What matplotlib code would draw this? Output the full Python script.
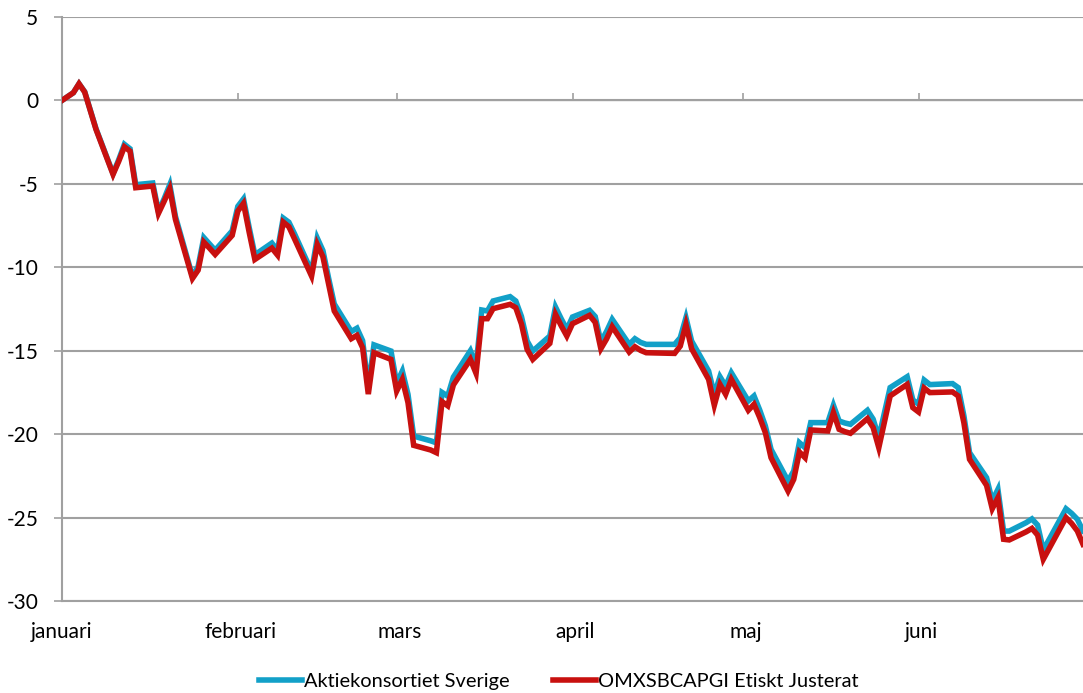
import matplotlib
matplotlib.use("Agg")
import matplotlib.pyplot as plt
import matplotlib.dates as mdates
import matplotlib.transforms as mtransforms
import numpy as np

plt.rcParams['font.family'] = ['Lato', 'DejaVu Sans']

# Trading days, first half of 2022 (base at 1 January = 0)
dates = [
    "2022-01-01", "2022-01-03", "2022-01-04", "2022-01-05", "2022-01-07",
    "2022-01-10", "2022-01-11", "2022-01-12", "2022-01-13", "2022-01-14",
    "2022-01-17", "2022-01-18", "2022-01-19", "2022-01-20", "2022-01-21",
    "2022-01-24", "2022-01-25", "2022-01-26", "2022-01-27", "2022-01-28",
    "2022-01-31", "2022-02-01", "2022-02-02", "2022-02-03", "2022-02-04",
    "2022-02-07", "2022-02-08", "2022-02-09", "2022-02-10", "2022-02-11",
    "2022-02-14", "2022-02-15", "2022-02-16", "2022-02-17", "2022-02-18",
    "2022-02-21", "2022-02-22", "2022-02-23", "2022-02-24", "2022-02-25",
    "2022-02-28", "2022-03-01", "2022-03-02", "2022-03-03", "2022-03-04",
    "2022-03-07", "2022-03-08", "2022-03-09", "2022-03-10", "2022-03-11",
    "2022-03-14", "2022-03-15", "2022-03-16", "2022-03-17", "2022-03-18",
    "2022-03-21", "2022-03-22", "2022-03-23", "2022-03-24", "2022-03-25",
    "2022-03-28", "2022-03-29", "2022-03-30", "2022-03-31", "2022-04-01",
    "2022-04-04", "2022-04-05", "2022-04-06", "2022-04-07", "2022-04-08",
    "2022-04-11", "2022-04-12", "2022-04-13", "2022-04-14", "2022-04-19",
    "2022-04-20", "2022-04-21", "2022-04-22", "2022-04-25", "2022-04-26",
    "2022-04-27", "2022-04-28", "2022-04-29", "2022-05-02", "2022-05-03",
    "2022-05-04", "2022-05-05", "2022-05-06", "2022-05-09", "2022-05-10",
    "2022-05-11", "2022-05-12", "2022-05-13", "2022-05-16", "2022-05-17",
    "2022-05-18", "2022-05-19", "2022-05-20", "2022-05-23", "2022-05-24",
    "2022-05-25", "2022-05-27", "2022-05-30", "2022-05-31", "2022-06-01",
    "2022-06-02", "2022-06-03", "2022-06-07", "2022-06-08", "2022-06-09",
    "2022-06-10", "2022-06-13", "2022-06-14", "2022-06-15", "2022-06-16",
    "2022-06-17", "2022-06-20", "2022-06-21", "2022-06-22", "2022-06-23",
    "2022-06-27", "2022-06-28", "2022-06-29", "2022-06-30",
]

# Accumulated return, percent
aktiekonsortiet = [
    0.00, 0.46, 1.00, 0.52, -1.70,
    -4.38, -3.55, -2.63, -2.90, -5.05,
    -4.95, -6.65, -5.90, -5.05, -6.95,
    -10.55, -9.95, -8.22, -8.60, -8.98,
    -7.82, -6.35, -5.90, -7.62, -9.25,
    -8.55, -8.98, -7.05, -7.30, -8.00,
    -10.25, -8.25, -9.00, -10.65, -12.20,
    -13.85, -13.65, -14.40, -17.20, -14.65,
    -15.02, -16.95, -16.22, -17.62, -20.12,
    -20.40, -20.52, -17.50, -17.72, -16.58,
    -15.00, -15.90, -12.56, -12.62, -12.02,
    -11.76, -12.02, -12.95, -14.42, -15.02,
    -14.12, -12.38, -13.08, -13.72, -12.98,
    -12.58, -12.95, -14.46, -13.85, -13.12,
    -14.62, -14.28, -14.50, -14.62, -14.62,
    -14.22, -13.02, -14.42, -16.22, -17.62,
    -16.56, -17.12, -16.32, -18.01, -17.71,
    -18.55, -19.51, -20.91, -22.81, -22.21,
    -20.51, -20.81, -19.31, -19.31, -18.27,
    -19.21, -19.33, -19.41, -18.57, -19.10,
    -20.21, -17.21, -16.56, -17.95, -18.20,
    -16.76, -17.03, -16.97, -17.21, -18.90,
    -21.11, -22.61, -24.00, -23.31, -25.81,
    -25.81, -25.30, -25.08, -25.45, -26.95,
    -24.47, -24.75, -25.10, -25.80,
]

omxsbcapgi_etisk = [
    0.00, 0.46, 1.00, 0.50, -1.74,
    -4.43, -3.65, -2.78, -3.04, -5.23,
    -5.13, -6.77, -6.05, -5.29, -7.13,
    -10.67, -10.17, -8.49, -8.85, -9.23,
    -8.09, -6.63, -6.17, -7.90, -9.53,
    -8.85, -9.27, -7.29, -7.57, -8.30,
    -10.53, -8.63, -9.37, -11.00, -12.62,
    -14.28, -14.08, -14.82, -17.60, -15.12,
    -15.52, -17.42, -16.72, -18.11, -20.67,
    -20.95, -21.11, -18.05, -18.30, -17.05,
    -15.52, -16.36, -13.08, -13.08, -12.48,
    -12.22, -12.42, -13.40, -14.92, -15.52,
    -14.56, -12.82, -13.50, -14.12, -13.38,
    -12.88, -13.30, -14.88, -14.30, -13.56,
    -15.08, -14.76, -14.98, -15.12, -15.16,
    -14.72, -13.42, -14.88, -16.72, -18.27,
    -17.02, -17.61, -16.72, -18.57, -18.21,
    -19.00, -19.91, -21.41, -23.41, -22.71,
    -21.07, -21.41, -19.75, -19.81, -18.71,
    -19.71, -19.85, -19.95, -19.07, -19.60,
    -20.81, -17.71, -17.02, -18.41, -18.67,
    -17.24, -17.51, -17.47, -17.71, -19.31,
    -21.51, -23.07, -24.47, -23.81, -26.30,
    -26.34, -25.85, -25.65, -26.05, -27.50,
    -25.00, -25.35, -25.80, -26.60,
]

series_names = ["Aktiekonsortiet Sverige", "OMXSBCAPGI Etiskt Justerat"]
series_colors = ["#12A0C8", "#C8100F"]

month_starts = ["2022-01-01", "2022-02-01", "2022-03-01",
                "2022-04-01", "2022-05-01", "2022-06-01"]
month_labels = ["januari", "februari", "mars", "april", "maj", "juni"]

y_ticks = [5, 0, -5, -10, -15, -20, -25, -30]

x = np.array(dates, dtype="datetime64[D]")
month_pos = mdates.date2num(np.array(month_starts, dtype="datetime64[D]"))

grid_color = "#A0A0A0"
font_size = 15

fig = plt.figure(figsize=(10.83, 6.93), dpi=100)
ax = fig.add_axes([62 / 1083, 1 - 601 / 693, 1 - 62 / 1083, (601 - 17) / 693])

ax.plot(x, aktiekonsortiet, color=series_colors[0], lw=4.0,
        solid_joinstyle="miter", label=series_names[0], zorder=3)
ax.plot(x, omxsbcapgi_etisk, color=series_colors[1], lw=4.0,
        solid_joinstyle="miter", label=series_names[1], zorder=4)

ax.set_xlim(mdates.date2num(np.datetime64("2022-01-01")),
            mdates.date2num(np.datetime64("2022-06-30")))
ax.set_ylim(-30, 5)

# y axis
ax.set_yticks(y_ticks)
ax.set_yticklabels([str(v) for v in y_ticks])
ax.yaxis.grid(True, color=grid_color, lw=1.5, zorder=1)
ax.tick_params(axis="y", direction="out", length=6, width=1.2,
               color=grid_color, pad=11, labelsize=font_size, labelcolor="#000000")

# month labels along the bottom, without tick marks
ax.set_xticks(month_pos)
ax.set_xticklabels(month_labels)
ax.tick_params(axis="x", length=0, pad=15, labelsize=font_size, labelcolor="#000000")
for i, lab in enumerate(ax.get_xticklabels()):
    dx = 0.0 if i == 0 else 0.03
    lab.set_transform(lab.get_transform() +
                      mtransforms.ScaledTranslation(dx, 0, fig.dpi_scale_trans))

# horizontal axis line crossing at zero, with month tick marks
sec = ax.secondary_xaxis(30 / 35)
sec.set_xticks(month_pos)
sec.set_xticklabels([""] * len(month_pos))
sec.tick_params(axis="x", direction="out", length=5, width=1.2, color=grid_color)
sec.spines["bottom"].set_color(grid_color)
sec.spines["bottom"].set_linewidth(1.5)

for side in ("top", "right"):
    ax.spines[side].set_visible(False)
ax.spines["left"].set_color(grid_color)
ax.spines["left"].set_linewidth(1.5)
ax.spines["bottom"].set_color(grid_color)
ax.spines["bottom"].set_linewidth(1.5)
ax.set_axisbelow(True)

fig.legend(loc="center", bbox_to_anchor=(0.5157, 0.017), ncol=2, frameon=False,
           fontsize=14.4, handlelength=2.15, handletextpad=0.1,
           columnspacing=2.15, borderaxespad=0)

fig.savefig("out.png", dpi=100)
